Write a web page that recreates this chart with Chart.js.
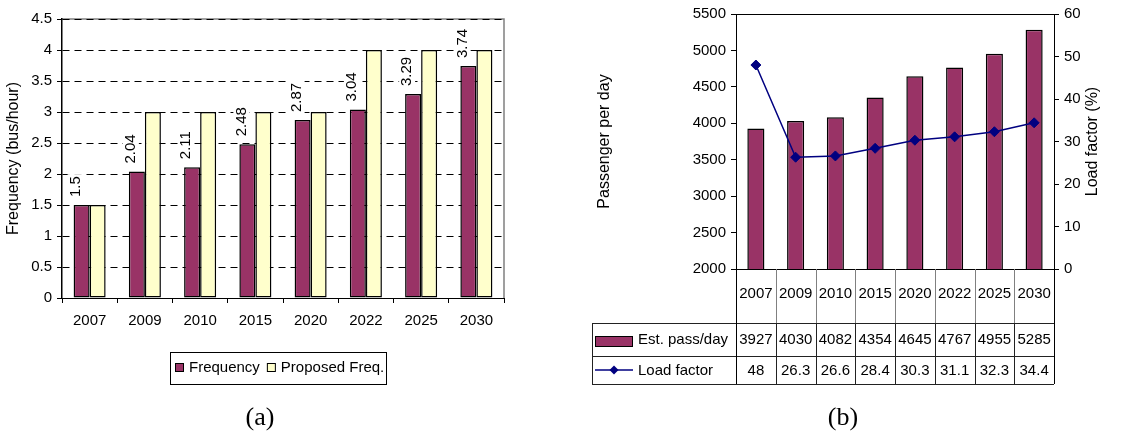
<!DOCTYPE html>
<html>
<head>
<meta charset="utf-8">
<script src="https://cdn.jsdelivr.net/npm/chart.js@4.4.0/dist/chart.umd.min.js"></script>
<style>
body { margin: 0; background: #fff; }
#wrap { position: relative; width: 1144px; height: 434px; overflow: hidden; background: #fff; }
#chartA { position: absolute; left: 0; top: 0; }
#chartB { position: absolute; left: 560px; top: 0; }
.cap { position: absolute; top: 402px; width: 60px; text-align: center; line-height: 30px;
       font-family: "Liberation Serif", "Times New Roman", serif; font-size: 26px; color: #000; }
</style>
</head>
<body>
<div id="wrap">
  <canvas id="chartA" width="560" height="434"></canvas>
  <canvas id="chartB" width="584" height="434"></canvas>
  <div class="cap" style="left:230px">(a)</div>
  <div class="cap" style="left:813px">(b)</div>
</div>
<script>
// data
const years = ['2007', '2009', '2010', '2015', '2020', '2022', '2025', '2030'];
const frequency = [1.5, 2.04, 2.11, 2.48, 2.87, 3.04, 3.29, 3.74];
const proposedFreq = [1.5, 3, 3, 3, 3, 4, 4, 4];
const passPerDay = [3927, 4030, 4082, 4354, 4645, 4767, 4955, 5285];
const loadFactor = [48, 26.3, 26.6, 28.4, 30.3, 31.1, 32.3, 34.4];

const maroon = '#993366';
const cream = '#FFFFCC';
const navy = '#000080';
const FONT = '"Liberation Sans", Arial, sans-serif';

Chart.defaults.font.family = FONT;
Chart.defaults.color = '#000';

// ---------- chart (a) ----------
const frameA = {
    id: 'frameA',
    beforeDraw(chart) {
        const ctx = chart.ctx, a = chart.chartArea;
        ctx.save();
        ctx.strokeStyle = '#808080';
        ctx.lineWidth = 1.5;
        ctx.beginPath();
        ctx.moveTo(a.left, a.top);
        ctx.lineTo(a.right, a.top);
        ctx.lineTo(a.right, a.bottom);
        ctx.stroke();
        ctx.restore();
    }
};

// rotated value labels above the Frequency bars, on a white box
const barLabelsA = {
    id: 'barLabelsA',
    afterDatasetsDraw(chart) {
        const ctx = chart.ctx;
        const meta = chart.getDatasetMeta(0);
        ctx.save();
        ctx.font = '15px ' + FONT;
        ctx.textAlign = 'left';
        ctx.textBaseline = 'middle';
        meta.data.forEach((bar, i) => {
            const txt = String(frequency[i]);
            const w = ctx.measureText(txt).width;
            ctx.save();
            ctx.translate(bar.x - 6, bar.y - 8);
            ctx.rotate(-Math.PI / 2);
            ctx.fillStyle = '#fff';
            ctx.fillRect(-2, -8, w + 4, 16);
            ctx.fillStyle = '#000';
            ctx.fillText(txt, 0, 0);
            ctx.restore();
        });
        ctx.restore();
    }
};

const legendA = {
    id: 'legendA',
    afterDraw(chart) {
        const ctx = chart.ctx;
        ctx.save();
        ctx.strokeStyle = '#000';
        ctx.lineWidth = 1;
        ctx.strokeRect(170.5, 352.5, 216, 32);
        ctx.font = '15px ' + FONT;
        ctx.textBaseline = 'middle';
        ctx.textAlign = 'left';
        let x = 175;
        chart.data.datasets.forEach(ds => {
            ctx.fillStyle = ds.backgroundColor;
            ctx.fillRect(x, 363, 8, 8);
            ctx.strokeRect(x + 0.5, 363.5, 8, 8);
            ctx.fillStyle = '#000';
            ctx.fillText(ds.label, x + 14, 368);
            x += 14 + ctx.measureText(ds.label).width + 7;
        });
        ctx.restore();
    }
};

new Chart(document.getElementById('chartA'), {
    type: 'bar',
    data: {
        labels: years,
        datasets: [
            { label: 'Frequency', data: frequency, backgroundColor: maroon, borderColor: '#000', borderWidth: 1.5,
              borderSkipped: false, categoryPercentage: 0.58, barPercentage: 1 },
            { label: 'Proposed Freq.', data: proposedFreq, backgroundColor: cream, borderColor: '#000', borderWidth: 1.5,
              borderSkipped: false, categoryPercentage: 0.58, barPercentage: 1 }
        ]
    },
    options: {
        responsive: false,
        animation: false,
        layout: { padding: { top: 19, right: 56, bottom: 96, left: 0 } },
        plugins: { legend: { display: false }, tooltip: { enabled: false } },
        scales: {
            x: {
                grid: { offset: true, drawOnChartArea: false, tickLength: 5, tickColor: '#000' },
                border: { color: '#000', width: 1 },
                ticks: { font: { size: 15 }, padding: 9, maxRotation: 0 },
                afterFit: s => { s.height = 40; }
            },
            y: {
                min: 0, max: 4.5,
                ticks: { stepSize: 0.5, font: { size: 15 }, padding: 5, callback: v => String(v) },
                grid: { color: '#000', lineWidth: 1, tickLength: 5, tickColor: '#000' },
                border: { color: '#000', width: 1.5, dash: [7, 5] },
                title: { display: true, text: 'Frequency (bus/hour)', font: { size: 16 } },
                afterFit: s => { s.width = 62; }
            }
        }
    },
    plugins: [frameA, barLabelsA, legendA]
});

// ---------- chart (b) ----------
const tableB = {
    id: 'tableB',
    afterDraw(chart) {
        const ctx = chart.ctx, a = chart.chartArea, xs = chart.scales.x;
        const centers = years.map((_, i) => xs.getPixelForValue(i));
        const edges = [a.left];
        for (let i = 0; i < centers.length - 1; i++) edges.push((centers[i] + centers[i + 1]) / 2);
        edges.push(a.right);
        const r0 = a.bottom, r1 = a.bottom + 54, r2 = r1 + 33, r3 = r2 + 28;
        const legLeft = 32;
        const px = v => Math.round(v) + 0.5;

        ctx.save();
        ctx.lineWidth = 1;
        // plot top border
        ctx.strokeStyle = '#000';
        ctx.beginPath();
        ctx.moveTo(a.left, px(a.top)); ctx.lineTo(a.right, px(a.top));
        ctx.stroke();
        // header row separators
        ctx.strokeStyle = '#808080';
        ctx.beginPath();
        for (let i = 1; i < edges.length - 1; i++) {
            ctx.moveTo(px(edges[i]), r0); ctx.lineTo(px(edges[i]), r1);
        }
        ctx.stroke();
        // body grid
        ctx.strokeStyle = '#222';
        ctx.beginPath();
        for (let i = 1; i < edges.length - 1; i++) {
            ctx.moveTo(px(edges[i]), r1); ctx.lineTo(px(edges[i]), r3);
        }
        [r1, r2, r3].forEach(y => { ctx.moveTo(legLeft, px(y)); ctx.lineTo(a.right, px(y)); });
        ctx.moveTo(px(legLeft), r1); ctx.lineTo(px(legLeft), r3);
        ctx.stroke();
        ctx.strokeStyle = '#000';
        ctx.beginPath();
        ctx.moveTo(px(a.left), r0); ctx.lineTo(px(a.left), r3);
        ctx.moveTo(px(a.right), r0); ctx.lineTo(px(a.right), r3);
        ctx.stroke();

        // cell text
        ctx.font = '15px ' + FONT;
        ctx.fillStyle = '#000';
        ctx.textAlign = 'center';
        ctx.textBaseline = 'middle';
        centers.forEach((cx, i) => {
            ctx.fillText(years[i], cx, r0 + 25);
            ctx.fillText(String(passPerDay[i]), cx, r1 + 17);
            ctx.fillText(String(loadFactor[i]), cx, r2 + 15);
        });

        // legend keys in the first column
        const barDs = chart.data.datasets[0], lineDs = chart.data.datasets[1];
        ctx.fillStyle = barDs.backgroundColor;
        ctx.fillRect(35, r1 + 13, 37, 10);
        ctx.strokeStyle = '#000';
        ctx.strokeRect(35.5, r1 + 13.5, 37, 10);
        ctx.strokeStyle = lineDs.borderColor;
        ctx.lineWidth = 1.5;
        ctx.beginPath();
        ctx.moveTo(35, r2 + 14); ctx.lineTo(73, r2 + 14);
        ctx.stroke();
        ctx.fillStyle = lineDs.borderColor;
        ctx.beginPath();
        ctx.moveTo(54 - 4.5, r2 + 14); ctx.lineTo(54, r2 + 9.5);
        ctx.lineTo(54 + 4.5, r2 + 14); ctx.lineTo(54, r2 + 18.5);
        ctx.closePath(); ctx.fill();
        ctx.fillStyle = '#000';
        ctx.textAlign = 'left';
        ctx.fillText(barDs.label, 78, r1 + 17);
        ctx.fillText(lineDs.label, 78, r2 + 15);

        // right axis title, reading bottom to top
        ctx.save();
        ctx.font = '16px ' + FONT;
        ctx.textAlign = 'center';
        ctx.translate(533, (a.top + a.bottom) / 2);
        ctx.rotate(-Math.PI / 2);
        ctx.fillText('Load factor (%)', 0, 0);
        ctx.restore();
        ctx.restore();
    }
};

new Chart(document.getElementById('chartB'), {
    data: {
        labels: years,
        datasets: [
            { type: 'bar', label: 'Est. pass/day', data: passPerDay, yAxisID: 'y', order: 2,
              backgroundColor: maroon, borderColor: '#000', borderWidth: 1.5, borderSkipped: false,
              categoryPercentage: 0.43, barPercentage: 1 },
            { type: 'line', label: 'Load factor', data: loadFactor, yAxisID: 'y1', order: 1,
              borderColor: navy, backgroundColor: navy, borderWidth: 1.5, tension: 0,
              pointStyle: 'rectRot', pointRadius: 5, pointBackgroundColor: navy, pointBorderColor: navy, pointBorderWidth: 1 }
        ]
    },
    options: {
        responsive: false,
        animation: false,
        layout: { padding: { top: 13, right: 38, bottom: 165, left: 31 } },
        plugins: { legend: { display: false }, tooltip: { enabled: false } },
        scales: {
            x: {
                grid: { display: false },
                ticks: { display: false },
                border: { color: '#000', width: 1 },
                afterFit: s => { s.height = 0; }
            },
            y: {
                position: 'left',
                min: 2000, max: 5500,
                ticks: { stepSize: 500, font: { size: 15 }, padding: 5, callback: v => String(v) },
                grid: { drawOnChartArea: false, tickLength: 5, tickColor: '#000' },
                border: { color: '#000', width: 1 },
                title: { display: true, text: 'Passenger per day', font: { size: 16 } },
                afterFit: s => { s.width = 145; }
            },
            y1: {
                position: 'right',
                min: 0, max: 60,
                ticks: { stepSize: 10, font: { size: 15 }, padding: 5, callback: v => String(v) },
                grid: { drawOnChartArea: false, tickLength: 5, tickColor: '#000' },
                border: { color: '#000', width: 1 },
                afterFit: s => { s.width = 52; }
            }
        }
    },
    plugins: [tableB]
});
</script>
</body>
</html>
